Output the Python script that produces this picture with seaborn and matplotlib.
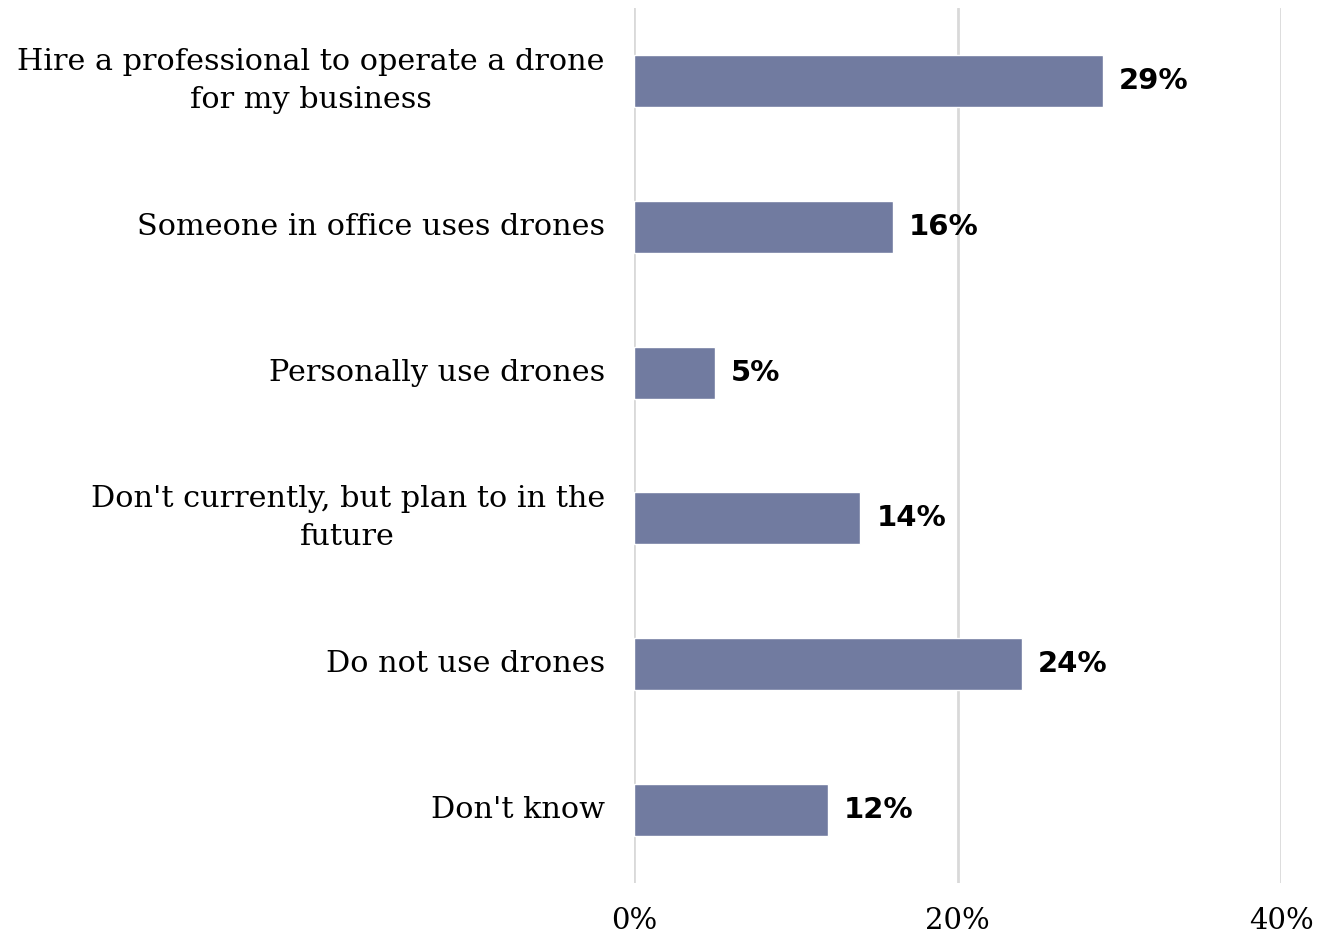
import matplotlib
matplotlib.use("Agg")
import matplotlib.pyplot as plt
import seaborn as sns
import pandas as pd

categories = [
    "Hire a professional to operate a drone\nfor my business",
    "Someone in office uses drones",
    "Personally use drones",
    "Don't currently, but plan to in the\nfuture",
    "Do not use drones",
    "Don't know",
]
shares = [29, 16, 5, 14, 24, 12]
x_ticks = [0, 20, 40]
x_tick_labels = ["0%", "20%", "40%"]

bar_color = "#717ba0"
grid_color = "#d9d9d9"

sns.set_theme(style="white")
plt.rcParams["font.family"] = ["DejaVu Serif"]

df = pd.DataFrame({"category": categories, "share": shares})

fig = plt.figure(figsize=(13.19, 9.33), dpi=100)
ax = fig.add_axes([634 / 1319, 1 - 883 / 933, (1281 - 634) / 1319, (883 - 8) / 933])

sns.barplot(data=df, x="share", y="category", orient="h", color=bar_color,
            saturation=1, width=0.357, ax=ax, zorder=3)

ax.set_xlim(0, 40)
ax.set_ylim(len(categories) - 0.5, -0.5)
ax.set_xticks(x_ticks)
ax.set_xticklabels(x_tick_labels)
for x in x_ticks:
    ax.axvline(x, color=grid_color, lw=2, zorder=1)

ax.set_xlabel("")
ax.set_ylabel("")
for s in ax.spines.values():
    s.set_visible(False)
ax.tick_params(axis="x", length=0, pad=17, labelsize=21, labelcolor="black")
ax.tick_params(axis="y", length=0, pad=21, labelsize=21.8, labelcolor="black")
for lbl in ax.get_yticklabels():
    lbl.set_multialignment("center")
    lbl.set_linespacing(1.45)
    lbl.set_verticalalignment("center")

for bar, v in zip(ax.patches, shares):
    ax.annotate(f"{v}%", (bar.get_width(), bar.get_y() + bar.get_height() / 2),
                xytext=(11.5, 0), textcoords="offset points", ha="left", va="center",
                fontsize=21, fontweight="bold", family="DejaVu Sans", color="black")

fig.savefig("out.png", dpi=100)
